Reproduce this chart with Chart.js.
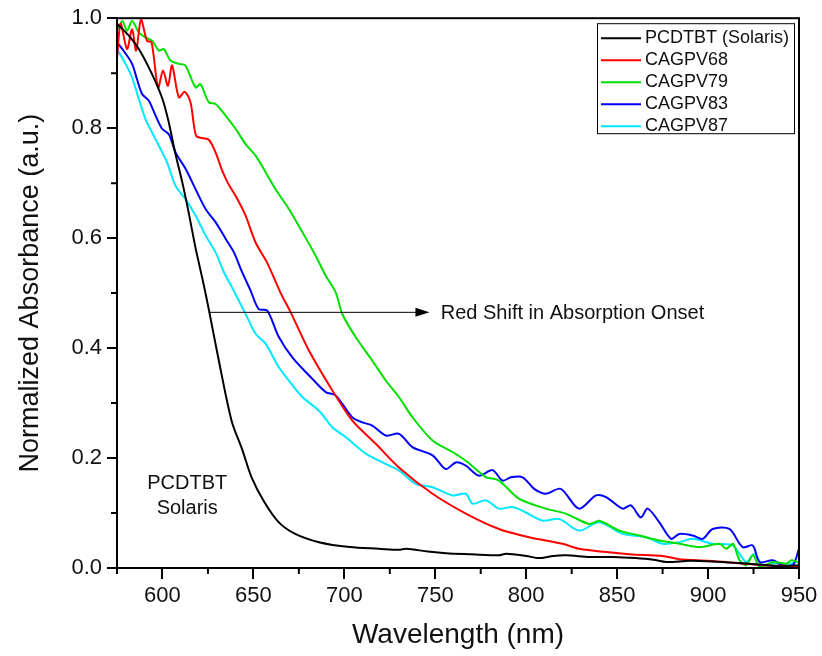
<!DOCTYPE html>
<html>
<head>
<meta charset="utf-8">
<script src="https://cdn.jsdelivr.net/npm/chart.js@4.4.0/dist/chart.umd.min.js"></script>
<style>
  html, body { margin: 0; padding: 0; background: #fff; }
</style>
</head>
<body>
<canvas id="absChart" width="822" height="656"></canvas>
<script>
const FONT = 'Arial, "Liberation Sans", Helvetica, sans-serif';

const seriesNames = ['PCDTBT (Solaris)', 'CAGPV68', 'CAGPV79', 'CAGPV83', 'CAGPV87'];
const seriesColors = ['#000000', '#ff0000', '#00e000', '#0000ff', '#00e8ff'];

// PCDTBT (Solaris)
const pcdtbtNm = [575, 581, 587, 594, 600, 603.5, 607, 611, 614.5, 618, 620, 622.7, 625.5, 631, 638, 644, 649, 656, 664, 673, 686, 703, 719, 730, 734, 746, 756, 770, 785, 789, 800, 807, 815, 822, 835, 848, 860, 870, 877, 890, 902, 912, 921, 930, 939, 945, 950];
const pcdtbtAbs = [0.99, 0.97, 0.944, 0.90, 0.853, 0.81, 0.755, 0.70, 0.645, 0.585, 0.555, 0.515, 0.47, 0.377, 0.268, 0.214, 0.165, 0.12, 0.083, 0.062, 0.047, 0.038, 0.035, 0.033, 0.035, 0.03, 0.027, 0.025, 0.023, 0.026, 0.022, 0.018, 0.022, 0.023, 0.02, 0.02, 0.018, 0.015, 0.011, 0.013, 0.012, 0.01, 0.008, 0.006, 0.003, 0.004, 0.005];

// CAGPV68
const cagpv68Nm = [575, 577, 580.5, 583.3, 585.5, 588.2, 591.5, 594, 597.6, 600.3, 603, 605.3, 609, 612.3, 615.4, 618.5, 622, 625.5, 629.2, 632.8, 636, 640.2, 645.7, 651.2, 657.6, 665, 670.5, 680.6, 693.4, 704.4, 717.3, 730, 748.5, 766.8, 785, 801.7, 820, 829, 856.8, 875, 884, 900, 912, 930, 940, 950];
const cagpv68Abs = [0.926, 0.99, 0.944, 0.98, 0.941, 0.997, 0.959, 0.956, 0.874, 0.905, 0.877, 0.914, 0.856, 0.866, 0.847, 0.786, 0.782, 0.779, 0.756, 0.723, 0.70, 0.677, 0.641, 0.592, 0.555, 0.50, 0.465, 0.395, 0.323, 0.268, 0.226, 0.183, 0.135, 0.099, 0.071, 0.056, 0.044, 0.035, 0.025, 0.022, 0.016, 0.013, 0.01, 0.005, 0.004, 0.003];

// CAGPV79
const cagpv79Nm = [575, 578, 580.5, 583.3, 587, 590.6, 594.3, 598, 600.7, 604.4, 609, 612.6, 618.2, 620.9, 625.5, 629.2, 634.7, 640.2, 645.7, 651.2, 656.7, 662.2, 669.5, 676.9, 684.2, 689.7, 695.3, 698.9, 706.2, 715.4, 722.8, 730, 737.5, 748.5, 759.5, 766.8, 774, 778, 785, 796, 810.7, 821.7, 834.7, 840.2, 851.2, 862.3, 873.3, 884.3, 895.3, 906.3, 910, 913.7, 917.3, 921, 924.7, 928.4, 935.7, 943, 945.8, 950];
const cagpv79Abs = [0.977, 0.995, 0.977, 0.995, 0.974, 0.965, 0.959, 0.941, 0.944, 0.923, 0.917, 0.914, 0.874, 0.88, 0.847, 0.844, 0.823, 0.799, 0.771, 0.75, 0.72, 0.689, 0.653, 0.611, 0.568, 0.532, 0.501, 0.462, 0.42, 0.377, 0.341, 0.311, 0.274, 0.232, 0.211, 0.195, 0.175, 0.165, 0.159, 0.126, 0.108, 0.099, 0.08, 0.086, 0.068, 0.059, 0.05, 0.044, 0.038, 0.044, 0.035, 0.044, 0.014, 0.005, 0.023, 0.002, 0.011, 0.008, 0.014, 0.01];

// CAGPV83
const cagpv83Nm = [575, 579.2, 583.3, 586, 588.8, 592.5, 596.2, 599.8, 603.5, 607.2, 612.7, 618.2, 623.7, 629.2, 634.7, 639.3, 643.8, 648.4, 652.9, 657.6, 664, 671.4, 682.4, 689.8, 695.2, 704.4, 709.9, 715.4, 722.8, 730.1, 737.4, 748.5, 755.8, 761.3, 766.8, 774, 781.5, 787, 791.6, 798, 804.4, 810.8, 819, 829, 838.4, 843.9, 853, 857.6, 863, 866.8, 873.2, 879.7, 884.2, 891.6, 897, 902.5, 911.7, 919, 924.6, 928.3, 935.6, 941, 946.6, 950];
const cagpv83Abs = [0.956, 0.938, 0.917, 0.889, 0.862, 0.85, 0.823, 0.799, 0.789, 0.756, 0.726, 0.689, 0.653, 0.629, 0.599, 0.574, 0.538, 0.505, 0.471, 0.468, 0.42, 0.383, 0.344, 0.32, 0.314, 0.274, 0.265, 0.259, 0.241, 0.244, 0.22, 0.205, 0.18, 0.192, 0.186, 0.168, 0.178, 0.159, 0.165, 0.165, 0.144, 0.135, 0.144, 0.108, 0.132, 0.129, 0.108, 0.114, 0.092, 0.108, 0.083, 0.053, 0.062, 0.059, 0.053, 0.071, 0.071, 0.038, 0.041, 0.011, 0.014, 0.005, 0.005, 0.035];

// CAGPV87
const cagpv87Nm = [575, 579.2, 583.3, 587, 590.6, 594.3, 598, 602.5, 607.2, 612.7, 618.2, 623.7, 629.2, 633.8, 638.3, 645.7, 651.2, 656.7, 664, 669.5, 676.9, 686.1, 693.4, 700.8, 711.8, 721, 730.1, 739.3, 748.5, 759.5, 766.8, 770.5, 777.9, 785, 792.4, 799.8, 809, 818.2, 829.2, 840.2, 853, 865.9, 875.1, 884.2, 891.6, 902.5, 913.5, 920.9, 925.4, 930, 937.4, 942.9, 948.4, 950];
const cagpv87Abs = [0.944, 0.92, 0.892, 0.853, 0.817, 0.792, 0.768, 0.738, 0.695, 0.671, 0.641, 0.605, 0.574, 0.538, 0.51, 0.462, 0.426, 0.408, 0.365, 0.341, 0.311, 0.286, 0.256, 0.238, 0.208, 0.192, 0.177, 0.153, 0.147, 0.132, 0.135, 0.117, 0.123, 0.108, 0.111, 0.101, 0.086, 0.089, 0.068, 0.083, 0.062, 0.056, 0.044, 0.047, 0.053, 0.044, 0.041, 0.011, 0.026, 0.005, 0.008, 0.005, 0.011, 0.01];

const xMajorTicks = [600, 650, 700, 750, 800, 850, 900, 950];
const xMinorTicks = [575, 625, 675, 725, 775, 825, 875, 925];
const yMajorTicks = [0, 0.2, 0.4, 0.6, 0.8, 1.0];
const yMinorTicks = [0.1, 0.3, 0.5, 0.7, 0.9];

// annotations (data coordinates)
const shiftText = 'Red Shift in Absorption Onset';
const shiftFromNm = 625.5, shiftToNm = 746.8, shiftAbs = 0.465, shiftTextNm = 753;
const solarisText = ['PCDTBT', 'Solaris'];
const solarisNm = 613.6, solarisAbs = [0.154, 0.108];

const allNm = [pcdtbtNm, cagpv68Nm, cagpv79Nm, cagpv83Nm, cagpv87Nm];
const allAbs = [pcdtbtAbs, cagpv68Abs, cagpv79Abs, cagpv83Abs, cagpv87Abs];

const datasets = seriesNames.map((name, i) => ({
  label: name,
  data: allNm[i].map((x, j) => ({ x: x, y: allAbs[i][j] })),
  borderColor: seriesColors[i],
  backgroundColor: seriesColors[i],
  borderWidth: 2,
  pointRadius: 0,
  tension: 0.3,
  fill: false
}));

const extrasPlugin = {
  id: 'extras',
  afterDatasetsDraw(chart) {
    const ctx = chart.ctx;
    const area = chart.chartArea;
    const xs = chart.scales.x, ys = chart.scales.y;
    ctx.save();
    ctx.strokeStyle = '#000';
    ctx.lineWidth = 2;
    ctx.strokeRect(area.left, area.top, area.right - area.left, area.bottom - area.top);

    // minor ticks
    ctx.beginPath();
    xMinorTicks.forEach(v => {
      const px = xs.getPixelForValue(v);
      ctx.moveTo(px, area.bottom); ctx.lineTo(px, area.bottom + 6);
    });
    yMinorTicks.forEach(v => {
      const py = ys.getPixelForValue(v);
      ctx.moveTo(area.left, py); ctx.lineTo(area.left - 6, py);
    });
    ctx.stroke();

    // red shift arrow
    const ay = ys.getPixelForValue(shiftAbs);
    const ax0 = xs.getPixelForValue(shiftFromNm);
    const ax1 = xs.getPixelForValue(shiftToNm);
    ctx.lineWidth = 1;
    ctx.beginPath();
    ctx.moveTo(ax0, ay); ctx.lineTo(ax1 - 12, ay);
    ctx.stroke();
    ctx.fillStyle = '#000';
    ctx.beginPath();
    ctx.moveTo(ax1, ay); ctx.lineTo(ax1 - 14, ay - 4.5); ctx.lineTo(ax1 - 14, ay + 4.5);
    ctx.closePath(); ctx.fill();

    ctx.font = '20px ' + FONT;
    ctx.textBaseline = 'middle';
    ctx.textAlign = 'left';
    ctx.fillStyle = '#111';
    ctx.fillText(shiftText, xs.getPixelForValue(shiftTextNm), ay + 1);

    ctx.textAlign = 'center';
    solarisText.forEach((t, i) => {
      ctx.fillText(t, xs.getPixelForValue(solarisNm), ys.getPixelForValue(solarisAbs[i]));
    });

    // legend
    const boxR = area.right - 5, boxT = area.top + 5;
    const boxW = 197, rowH = 22;
    const boxL = boxR - boxW;
    const boxH = rowH * chart.data.datasets.length;
    ctx.fillStyle = '#fff';
    ctx.fillRect(boxL, boxT, boxW, boxH);
    ctx.strokeStyle = '#000';
    ctx.lineWidth = 1;
    ctx.strokeRect(boxL + 0.5, boxT + 0.5, boxW, boxH);
    ctx.font = '18px ' + FONT;
    ctx.textAlign = 'left';
    chart.data.datasets.forEach((ds, i) => {
      const ry = boxT + 15 + i * rowH;
      ctx.strokeStyle = ds.borderColor;
      ctx.lineWidth = 2;
      ctx.beginPath();
      ctx.moveTo(boxL + 4, ry); ctx.lineTo(boxL + 44, ry);
      ctx.stroke();
      ctx.fillStyle = '#111';
      ctx.fillText(ds.label, boxL + 48, ry);
    });
    ctx.restore();
  }
};

const ctxAbs = document.getElementById('absChart').getContext('2d');
const absChart = new Chart(ctxAbs, {
  type: 'line',
  data: { datasets: datasets },
  options: {
    responsive: false,
    animation: false,
    layout: { padding: { top: 17, right: 23, left: 0, bottom: 0 } },
    plugins: { legend: { display: false }, tooltip: { enabled: false } },
    scales: {
      x: {
        type: 'linear',
        min: 575,
        max: 950,
        afterFit: s => { s.height = 88; },
        afterBuildTicks: s => { s.ticks = xMajorTicks.map(v => ({ value: v })); },
        border: { display: true, color: '#000', width: 2 },
        grid: { drawOnChartArea: false, color: '#000', lineWidth: 2, tickLength: 11 },
        ticks: { color: '#111', font: { family: FONT, size: 22 }, padding: 4, maxRotation: 0 },
        title: { display: true, text: 'Wavelength (nm)', color: '#111', font: { family: FONT, size: 28 }, padding: { top: 0, bottom: 4 } }
      },
      y: {
        type: 'linear',
        min: 0,
        max: 1,
        afterFit: s => { s.width = 117; },
        afterBuildTicks: s => { s.ticks = yMajorTicks.map(v => ({ value: v })); },
        border: { display: true, color: '#000', width: 2 },
        grid: { drawOnChartArea: false, color: '#000', lineWidth: 2, tickLength: 10 },
        ticks: { color: '#111', font: { family: FONT, size: 22 }, padding: 5, callback: v => Number(v).toFixed(1) },
        title: { display: true, text: 'Normalized Absorbance (a.u.)', color: '#111', font: { family: FONT, size: 27 }, padding: { top: 14, bottom: 0 } }
      }
    }
  },
  plugins: [extrasPlugin]
});
</script>
</body>
</html>
